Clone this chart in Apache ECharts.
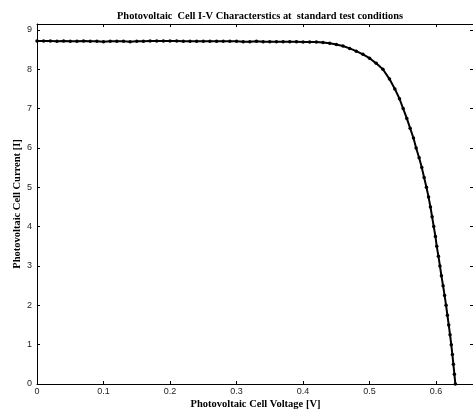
<!DOCTYPE html>
<html>
<head>
<meta charset="utf-8">
<script src="https://cdn.jsdelivr.net/npm/echarts@6/dist/echarts.min.js"></script>
<style>html,body{margin:0;padding:0;background:#fff;}#c{width:473px;height:412px;}</style>
</head>
<body>
<div id="c"></div>
<script>
var titleText = 'Photovoltaic  Cell I-V Characterstics at  standard test conditions';
var xName = 'Photovoltaic Cell Voltage [V]';
var yName = 'Photovoltaic Cell Current [I]';

var voltage = [0,0.01,0.02,0.03,0.04,0.05,0.06,0.07,0.08,0.09,0.10,0.11,0.12,0.13,0.14,0.15,0.16,0.17,0.18,0.19,0.20,0.21,0.22,0.23,0.24,0.25,0.26,0.27,0.28,0.29,0.30,0.31,0.32,0.33,0.34,0.35,0.36,0.37,0.38,0.39,0.40,0.41,0.42,
  0.43,0.44,0.45,0.46,0.47,0.48,0.49,0.50,0.51,
  0.520,0.530,0.538,0.545,0.5505,0.556,0.561,0.566,0.570,0.5745,0.5785,0.582,0.5855,0.5887,0.5915,0.594,0.5965,0.599,0.601,0.6035,0.6058,0.608,0.6105,0.6128,0.615,0.617,0.619,0.621,0.6228,0.6245,0.626,0.6275,0.629];
var current = [8.72,8.72,8.72,8.71,8.72,8.71,8.71,8.72,8.71,8.71,8.70,8.71,8.71,8.71,8.70,8.71,8.71,8.72,8.72,8.72,8.72,8.72,8.71,8.71,8.71,8.71,8.71,8.71,8.71,8.71,8.71,8.70,8.70,8.71,8.70,8.70,8.70,8.70,8.70,8.70,8.69,8.69,8.69,
  8.68,8.66,8.63,8.59,8.53,8.46,8.38,8.28,8.15,
  8.0,7.75,7.5,7.25,7.0,6.75,6.5,6.25,6.0,5.75,5.5,5.25,5.0,4.75,4.5,4.25,4.0,3.75,3.5,3.25,3.0,2.75,2.5,2.25,2.0,1.75,1.5,1.25,1.0,0.75,0.5,0.25,0.0];

var xMin = 0, xMax = 0.657, xStep = 0.1;
var yMin = 0, yMax = 9.15, yStep = 1;

var pts = voltage.map(function(v, i){ return [v, current[i]]; });

var chart = echarts.init(document.getElementById('c'), null, {renderer: 'canvas'});
var labelStyle = {color: '#222', fontSize: 9, fontFamily: 'Liberation Sans, Arial, sans-serif'};
var nameStyle = {color: '#000', fontSize: 10.5, fontWeight: 'bold', fontFamily: 'Liberation Serif, Times New Roman, serif'};
var lineStyle = {color: '#000', width: 1};
chart.setOption({
  animation: false,
  backgroundColor: '#fff',
  title: {
    text: titleText, left: 255, top: 6, textAlign: 'center',
    textStyle: {color: '#000', fontSize: 10.4, fontWeight: 'bold', fontFamily: 'Liberation Serif, Times New Roman, serif'}
  },
  grid: {left: 37, top: 24, right: -1, bottom: 28, containLabel: false, outerBoundsMode: 'none'},
  xAxis: [{
    type: 'value', position: 'bottom', min: xMin, max: xMax, interval: xStep,
    name: xName, nameLocation: 'middle', nameGap: 15, nameMoveOverlap: false, nameTextStyle: nameStyle,
    axisLine: {show: true, onZero: false, lineStyle: lineStyle},
    axisTick: {show: true, inside: true, length: 3, lineStyle: lineStyle},
    axisLabel: {show: true, margin: 3, showMaxLabel: false, ...labelStyle,
      formatter: function(v){ return String(Math.round(v*10)/10); }},
    splitLine: {show: false}
  }, {
    type: 'value', position: 'top', min: xMin, max: xMax, interval: xStep,
    axisLine: {show: true, onZero: false, lineStyle: lineStyle},
    axisTick: {show: true, inside: true, length: 3, lineStyle: lineStyle},
    axisLabel: {show: false}, splitLine: {show: false}
  }],
  yAxis: [{
    type: 'value', position: 'left', min: yMin, max: yMax, interval: yStep,
    name: yName, nameLocation: 'middle', nameGap: 14, nameMoveOverlap: false, nameTextStyle: nameStyle,
    axisLine: {show: true, onZero: false, lineStyle: lineStyle},
    axisTick: {show: true, inside: true, length: 3, lineStyle: lineStyle},
    axisLabel: {show: true, margin: 5, showMaxLabel: false, ...labelStyle},
    splitLine: {show: false}
  }, {
    type: 'value', position: 'right', min: yMin, max: yMax, interval: yStep,
    axisLine: {show: true, onZero: false, lineStyle: lineStyle},
    axisTick: {show: true, inside: true, length: 4, lineStyle: lineStyle},
    axisLabel: {show: false}, splitLine: {show: false}
  }],
  series: [{
    type: 'line', data: pts, xAxisIndex: 0, yAxisIndex: 0,
    symbol: 'circle', symbolSize: 3.5, showSymbol: true,
    itemStyle: {color: '#000'},
    lineStyle: {color: '#000', width: 2},
    clip: false
  }]
});
</script>
</body>
</html>
